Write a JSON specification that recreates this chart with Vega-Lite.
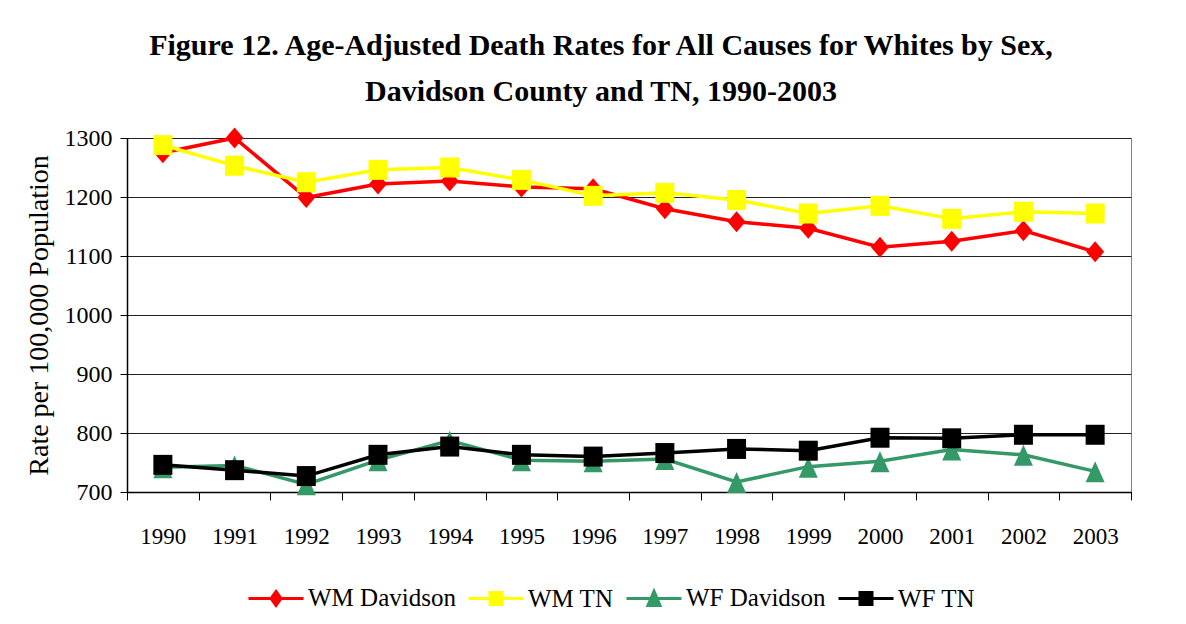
{
  "$schema": "https://vega.github.io/schema/vega-lite/v6.json",
  "width": 1004,
  "height": 354,
  "autosize": "none",
  "padding": {"left": 127, "top": 138, "right": 55, "bottom": 132},
  "background": "white",
  "title": {
    "text": ["Figure 12. Age-Adjusted Death Rates for All Causes for Whites by Sex,", "Davidson County and TN, 1990-2003"],
    "font": "Liberation Serif",
    "fontSize": 30,
    "fontWeight": "bold",
    "color": "#000000",
    "lineHeight": 46,
    "anchor": "middle",
    "dx": -28,
    "offset": 19
  },
  "data": {
    "values": [
      {"year": "1990", "series": "WM Davidson", "rate": 1275},
      {"year": "1991", "series": "WM Davidson", "rate": 1300},
      {"year": "1992", "series": "WM Davidson", "rate": 1199},
      {"year": "1993", "series": "WM Davidson", "rate": 1222},
      {"year": "1994", "series": "WM Davidson", "rate": 1227},
      {"year": "1995", "series": "WM Davidson", "rate": 1217},
      {"year": "1996", "series": "WM Davidson", "rate": 1214},
      {"year": "1997", "series": "WM Davidson", "rate": 1180},
      {"year": "1998", "series": "WM Davidson", "rate": 1158},
      {"year": "1999", "series": "WM Davidson", "rate": 1147},
      {"year": "2000", "series": "WM Davidson", "rate": 1115},
      {"year": "2001", "series": "WM Davidson", "rate": 1125},
      {"year": "2002", "series": "WM Davidson", "rate": 1143},
      {"year": "2003", "series": "WM Davidson", "rate": 1107},
      {"year": "1990", "series": "WM TN", "rate": 1288},
      {"year": "1991", "series": "WM TN", "rate": 1253},
      {"year": "1992", "series": "WM TN", "rate": 1225},
      {"year": "1993", "series": "WM TN", "rate": 1246},
      {"year": "1994", "series": "WM TN", "rate": 1250},
      {"year": "1995", "series": "WM TN", "rate": 1229},
      {"year": "1996", "series": "WM TN", "rate": 1202},
      {"year": "1997", "series": "WM TN", "rate": 1207},
      {"year": "1998", "series": "WM TN", "rate": 1195},
      {"year": "1999", "series": "WM TN", "rate": 1172},
      {"year": "2000", "series": "WM TN", "rate": 1185},
      {"year": "2001", "series": "WM TN", "rate": 1163},
      {"year": "2002", "series": "WM TN", "rate": 1175},
      {"year": "2003", "series": "WM TN", "rate": 1172},
      {"year": "1990", "series": "WF Davidson", "rate": 742},
      {"year": "1991", "series": "WF Davidson", "rate": 745},
      {"year": "1992", "series": "WF Davidson", "rate": 713},
      {"year": "1993", "series": "WF Davidson", "rate": 754},
      {"year": "1994", "series": "WF Davidson", "rate": 787},
      {"year": "1995", "series": "WF Davidson", "rate": 754},
      {"year": "1996", "series": "WF Davidson", "rate": 752},
      {"year": "1997", "series": "WF Davidson", "rate": 756},
      {"year": "1998", "series": "WF Davidson", "rate": 717},
      {"year": "1999", "series": "WF Davidson", "rate": 743},
      {"year": "2000", "series": "WF Davidson", "rate": 752},
      {"year": "2001", "series": "WF Davidson", "rate": 772},
      {"year": "2002", "series": "WF Davidson", "rate": 763},
      {"year": "2003", "series": "WF Davidson", "rate": 735},
      {"year": "1990", "series": "WF TN", "rate": 746},
      {"year": "1991", "series": "WF TN", "rate": 737},
      {"year": "1992", "series": "WF TN", "rate": 727},
      {"year": "1993", "series": "WF TN", "rate": 763},
      {"year": "1994", "series": "WF TN", "rate": 777},
      {"year": "1995", "series": "WF TN", "rate": 763},
      {"year": "1996", "series": "WF TN", "rate": 760},
      {"year": "1997", "series": "WF TN", "rate": 766},
      {"year": "1998", "series": "WF TN", "rate": 773},
      {"year": "1999", "series": "WF TN", "rate": 770},
      {"year": "2000", "series": "WF TN", "rate": 792},
      {"year": "2001", "series": "WF TN", "rate": 791},
      {"year": "2002", "series": "WF TN", "rate": 797},
      {"year": "2003", "series": "WF TN", "rate": 797}
    ]
  },
  "encoding": {
    "x": {
      "field": "year",
      "type": "ordinal",
      "bandPosition": 0.5,
      "scale": {"type": "band", "paddingInner": 0, "paddingOuter": 0},
      "axis": {
        "title": null,
        "labelAngle": 0,
        "labelFont": "Liberation Serif",
        "labelFontSize": 23,
        "labelColor": "#000000",
        "labelPadding": 25,
        "tickBand": "extent",
        "tickSize": 8,
        "tickColor": "#000000",
        "domainColor": "#000000",
        "domainWidth": 1.5,
        "grid": false
      }
    },
    "y": {
      "field": "rate",
      "type": "quantitative",
      "scale": {"domain": [700, 1300], "nice": false, "zero": false},
      "axis": {
        "title": "Rate per 100,000 Population",
        "titleFont": "Liberation Serif",
        "titleFontSize": 28,
        "titleFontWeight": "normal",
        "titleColor": "#000000",
        "titlePadding": 11,
        "values": [700, 800, 900, 1000, 1100, 1200, 1300],
        "format": "d",
        "labelFont": "Liberation Serif",
        "labelFontSize": 24,
        "labelColor": "#000000",
        "labelPadding": 8,
        "tickSize": 7,
        "tickColor": "#000000",
        "domainColor": "#000000",
        "domainWidth": 1.5,
        "grid": true,
        "gridColor": "#222222",
        "gridWidth": 1
      }
    },
    "color": {
      "field": "series",
      "type": "nominal",
      "scale": {
        "domain": ["WM Davidson", "WM TN", "WF Davidson", "WF TN"],
        "range": ["#FF0000", "#FFFF00", "#339966", "#000000"]
      },
      "legend": {
        "orient": "none",
        "legendX": 120,
        "legendY": 431,
        "direction": "horizontal",
        "title": null,
        "padding": 0,
        "labelFont": "Liberation Serif",
        "labelFontSize": 25,
        "labelColor": "#000000",
        "labelOffset": 3,
        "columnPadding": 6,
        "symbolSize": 3025,
        "symbolStrokeWidth": 3,
        "encode": {
          "symbols": {
            "update": {
              "shape": {"signal": "datum.value === 'WM Davidson' ? 'M-1,0H1M0,-0.255L0.18,0L0,0.255L-0.18,0Z' : datum.value === 'WF Davidson' ? 'M-1,0H1M0,-0.26L0.22,0.26H-0.22Z' : 'M-1,0H1M-0.218,-0.218H0.218V0.218H-0.218Z'"},
              "fill": {"scale": "color", "field": "value"},
              "stroke": {"scale": "color", "field": "value"},
              "strokeWidth": {"value": 3},
              "size": {"value": 3025},
              "opacity": {"value": 1},
              "fillOpacity": {"value": 1},
              "strokeOpacity": {"value": 1}
            }
          }
        }
      }
    }
  },
  "layer": [
    {
      "mark": {"type": "line", "strokeWidth": 3.5}
    },
    {
      "transform": [{"filter": "datum.series === 'WM Davidson'"}],
      "mark": {"type": "point", "filled": true, "opacity": 1, "size": 400, "strokeWidth": 0, "shape": "M0,-1.05L0.9,0L0,1.05L-0.9,0Z"}
    },
    {
      "transform": [{"filter": "datum.series === 'WM TN'"}],
      "mark": {"type": "point", "filled": true, "opacity": 1, "size": 400, "strokeWidth": 0, "shape": "M-0.95,-1H0.95V1H-0.95Z"}
    },
    {
      "transform": [{"filter": "datum.series === 'WF Davidson'"}],
      "mark": {"type": "point", "filled": true, "opacity": 1, "size": 400, "strokeWidth": 0, "shape": "M0,-1L0.95,1.1H-0.95Z"}
    },
    {
      "transform": [{"filter": "datum.series === 'WF TN'"}],
      "mark": {"type": "point", "filled": true, "opacity": 1, "size": 400, "strokeWidth": 0, "shape": "M-0.95,-1H0.95V1H-0.95Z"}
    }
  ],
  "config": {
    "font": "Liberation Serif",
    "view": {"stroke": "#808080", "strokeWidth": 1}
  }
}
